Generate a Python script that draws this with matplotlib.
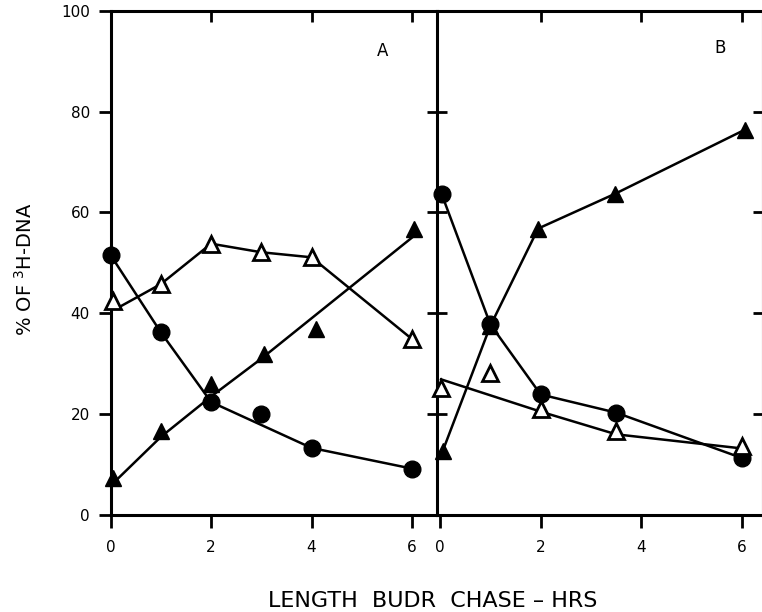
import matplotlib
matplotlib.use("Agg")
import matplotlib.pyplot as plt

# =========================
# data
# =========================

# panel A markers
a_circ_x = [0, 1, 2, 3, 4, 6]
a_circ_y = [51.5, 36.2, 22.4, 20.1, 13.3, 9.2]
a_otri_x = [0.05, 1, 2, 3, 4, 6]
a_otri_y = [42.5, 45.8, 53.8, 52.1, 51.1, 34.9]
a_ftri_x = [0.05, 1, 2, 3.05, 4.08, 6.05]
a_ftri_y = [7.3, 16.6, 25.9, 31.9, 36.9, 56.8]

# panel A drawn curves
a_circ_line_x = [0, 1, 2, 4, 6]
a_circ_line_y = [51.5, 36.2, 22.4, 13.3, 9.2]
a_otri_line_x = [0.2, 1, 2, 3, 4, 6]
a_otri_line_y = [41.4, 45.8, 53.8, 52.1, 51.1, 34.9]
a_ftri_line_x = [0.1, 1, 2, 3, 6.1]
a_ftri_line_y = [6.8, 15.5, 23.5, 31.0, 55.8]

# panel B markers
b_circ_x = [0.03, 1, 2, 3.5, 6]
b_circ_y = [63.7, 37.8, 23.9, 20.3, 11.3]
b_otri_x = [0.02, 1, 2, 3.5, 6]
b_otri_y = [25.2, 28.1, 21.0, 16.6, 13.6]
b_ftri_x = [0.05, 1, 1.95, 3.48, 6.06]
b_ftri_y = [12.6, 37.5, 56.8, 63.7, 76.4]

# panel B drawn curves
b_otri_line_x = [0.02, 2, 3.5, 6]
b_otri_line_y = [26.9, 20.5, 16.0, 13.2]

x_ticks = [0, 2, 4, 6]
y_ticks = [0, 20, 40, 60, 80, 100]

LW = 1.8
MS = 12

fig = plt.figure(figsize=(7.62, 6.12), dpi=100)
axA = fig.add_axes([0.1453, 0.1585, 0.4282, 0.824])
axB = fig.add_axes([0.5735, 0.1585, 0.4278, 0.824])
axB.patch.set_visible(False)

for ax in (axA, axB):
    ax.set_ylim(0, 100)
    for s in ax.spines.values():
        s.set_linewidth(2.2)
    ax.set_xticks(x_ticks)
    ax.set_xticklabels([str(t) for t in x_ticks], fontsize=11)
    ax.tick_params(axis="x", which="both", direction="out", length=9,
                   width=2, pad=9, top=False)
    ax.set_yticks([20, 40, 60, 80])

axA.set_xlim(0, 6.5)
axB.set_xlim(-0.06, 6.42)

# y axis of panel A
axA.set_yticks(y_ticks)
axA.set_yticklabels([str(t) for t in y_ticks], fontsize=11)
axA.tick_params(axis="y", direction="out", length=9, width=2, pad=6,
                right=True)
# middle line ticks (both sides)
for t in axA.yaxis.get_major_ticks():
    t.tick2line.set_marker("_")
    t.tick2line.set_markersize(14)
    t.tick2line.set_markeredgewidth(2)
axB.spines["left"].set_visible(False)
axB.tick_params(axis="y", left=False, labelleft=False, right=True,
                direction="in", length=7, width=2)

# top ticks pointing inward
for ax in (axA, axB):
    top = ax.secondary_xaxis("top")
    top.set_xticks([2, 4, 6])
    top.tick_params(direction="in", length=8, width=2, labeltop=False)
    top.spines["top"].set_visible(False)

# --- panel A
axA.plot(a_circ_line_x, a_circ_line_y, color="black", lw=LW, clip_on=False)
axA.plot(a_otri_line_x, a_otri_line_y, color="black", lw=LW, clip_on=False)
axA.plot(a_ftri_line_x, a_ftri_line_y, color="black", lw=LW, clip_on=False)
axA.plot(a_circ_x, a_circ_y, "o", color="black", ms=MS, clip_on=False, zorder=3)
axA.plot(a_ftri_x, a_ftri_y, "^", color="black", ms=MS, clip_on=False, zorder=3)
axA.plot(a_otri_x, a_otri_y, "^", mfc="white", mec="black", mew=2,
         ms=MS - 1, clip_on=False, zorder=4)
axA.text(5.42, 92, "A", fontsize=12, ha="center", va="center")

# --- panel B
axB.plot(b_circ_x, b_circ_y, color="black", lw=LW, clip_on=False)
axB.plot(b_ftri_x, b_ftri_y, color="black", lw=LW, clip_on=False)
axB.plot(b_otri_line_x, b_otri_line_y, color="black", lw=LW, clip_on=False)
axB.plot(b_circ_x, b_circ_y, "o", color="black", ms=MS, clip_on=False, zorder=3)
axB.plot(b_ftri_x, b_ftri_y, "^", color="black", ms=MS, clip_on=False, zorder=3)
axB.plot(b_otri_x, b_otri_y, "^", mfc="white", mec="black", mew=2,
         ms=MS - 1, clip_on=False, zorder=4)
axB.text(5.57, 92.6, "B", fontsize=12, ha="center", va="center")

fig.text(0.032, 0.56, r"% OF $^3$H-DNA", rotation=90, fontsize=14,
         ha="center", va="center")
fig.text(0.568, 0.002, "LENGTH  BUDR  CHASE – HRS", fontsize=16,
         ha="center", va="bottom")

fig.savefig("out.png", dpi=100)
